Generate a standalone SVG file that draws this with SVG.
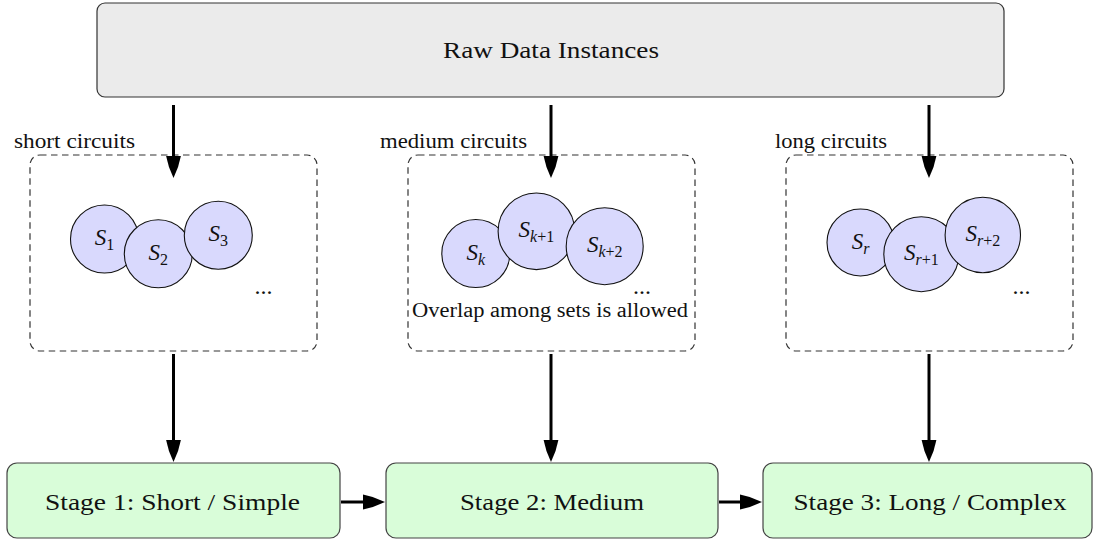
<svg xmlns="http://www.w3.org/2000/svg" width="1094" height="540" viewBox="0 0 1094 540" font-family="Liberation Serif, DejaVu Serif, serif">
  <defs>
    <marker id="tip" markerUnits="userSpaceOnUse" markerWidth="24" markerHeight="16" refX="10" refY="8" orient="auto">
      <path d="M0,0.6 Q11,2.6 22,8 Q11,13.4 0,15.4 Z" fill="#000"/>
    </marker>
    <style>
      text { font-family: 'Liberation Serif', 'DejaVu Serif', serif; fill: #111; }
      .big { font-size: 24px; }
      .small { font-size: 20px; }
      .raw { fill: #ebebeb; stroke: #333; stroke-width: 1.2; }
      .stage { fill: #d9fdd9; stroke: #444; stroke-width: 1.2; }
      .group { fill: none; stroke: #333; stroke-width: 1.2; stroke-dasharray: 6.5 4.5; }
      .set { fill: #d9d9fd; stroke: #111; stroke-width: 1.1; }
      .math { font-size: 23px; }
      .sub { font-size: 16px; }
      .edge { stroke: #000; stroke-width: 3; fill: none; marker-end: url(#tip); }
    </style>
  </defs>

  <!-- source -->
  <g id="raw">
    <rect class="raw" x="97" y="3" width="907" height="94" rx="8"/>
    <text class="big" x="551" y="58" text-anchor="middle" textLength="216" lengthAdjust="spacingAndGlyphs">Raw Data Instances</text>
  </g>

  <!-- circuit groups -->
  <g id="short-group">
    <rect class="group" x="30" y="155" width="287" height="196" rx="10"/>
    <text class="small" x="14" y="148" textLength="121" lengthAdjust="spacingAndGlyphs">short circuits</text>
    <g id="s1">
      <circle class="set" cx="104.5" cy="239" r="34"/>
      <text class="math" x="104.5" y="245" text-anchor="middle"><tspan font-style="italic">S</tspan><tspan class="sub" dy="4.5">1</tspan></text>
    </g>
    <g id="s2">
      <circle class="set" cx="158.3" cy="253.8" r="34"/>
      <text class="math" x="158.3" y="260" text-anchor="middle"><tspan font-style="italic">S</tspan><tspan class="sub" dy="4.5">2</tspan></text>
    </g>
    <g id="s3">
      <circle class="set" cx="218.3" cy="235.2" r="34"/>
      <text class="math" x="218.3" y="241" text-anchor="middle"><tspan font-style="italic">S</tspan><tspan class="sub" dy="4.5">3</tspan></text>
    </g>
    <text class="big" x="263.5" y="294" text-anchor="middle">...</text>
  </g>

  <g id="medium-group">
    <rect class="group" x="408" y="155" width="287" height="196" rx="10"/>
    <text class="small" x="380" y="148" textLength="147" lengthAdjust="spacingAndGlyphs">medium circuits</text>
    <g id="sk">
      <circle class="set" cx="475.8" cy="253.5" r="34"/>
      <text class="math" x="475.8" y="260" text-anchor="middle"><tspan font-style="italic">S</tspan><tspan class="sub" dy="4.5" font-style="italic">k</tspan></text>
    </g>
    <g id="sk1">
      <circle class="set" cx="536.4" cy="231.3" r="38.3"/>
      <text class="math" x="536.4" y="237" text-anchor="middle"><tspan font-style="italic">S</tspan><tspan class="sub" dy="4.5" font-style="italic">k</tspan><tspan class="sub">+1</tspan></text>
    </g>
    <g id="sk2">
      <circle class="set" cx="604.7" cy="246.2" r="38.5"/>
      <text class="math" x="604.7" y="252" text-anchor="middle"><tspan font-style="italic">S</tspan><tspan class="sub" dy="4.5" font-style="italic">k</tspan><tspan class="sub">+2</tspan></text>
    </g>
    <text class="big" x="642" y="294" text-anchor="middle">...</text>
    <text class="small" x="412" y="317" textLength="276" lengthAdjust="spacingAndGlyphs">Overlap among sets is allowed</text>
  </g>

  <g id="long-group">
    <rect class="group" x="786" y="155" width="287" height="196" rx="10"/>
    <text class="small" x="775" y="148" textLength="112" lengthAdjust="spacingAndGlyphs">long circuits</text>
    <g id="sr">
      <circle class="set" cx="860.5" cy="242.5" r="33.5"/>
      <text class="math" x="860.5" y="249" text-anchor="middle"><tspan font-style="italic">S</tspan><tspan class="sub" dy="4.5" font-style="italic">r</tspan></text>
    </g>
    <g id="sr1">
      <circle class="set" cx="921.3" cy="254.2" r="37.5"/>
      <text class="math" x="921.3" y="260" text-anchor="middle"><tspan font-style="italic">S</tspan><tspan class="sub" dy="4.5" font-style="italic">r</tspan><tspan class="sub">+1</tspan></text>
    </g>
    <g id="sr2">
      <circle class="set" cx="982.8" cy="235" r="37.7"/>
      <text class="math" x="982.8" y="241" text-anchor="middle"><tspan font-style="italic">S</tspan><tspan class="sub" dy="4.5" font-style="italic">r</tspan><tspan class="sub">+2</tspan></text>
    </g>
    <text class="big" x="1021.5" y="294" text-anchor="middle">...</text>
  </g>

  <!-- curriculum stages -->
  <g id="stage1">
    <rect class="stage" x="7" y="463" width="333" height="75" rx="10"/>
    <text class="big" x="172.5" y="510" text-anchor="middle" textLength="255" lengthAdjust="spacingAndGlyphs">Stage 1: Short / Simple</text>
  </g>
  <g id="stage2">
    <rect class="stage" x="386" y="463" width="332" height="75" rx="10"/>
    <text class="big" x="552" y="510" text-anchor="middle" textLength="184" lengthAdjust="spacingAndGlyphs">Stage 2: Medium</text>
  </g>
  <g id="stage3">
    <rect class="stage" x="763" y="463" width="329" height="75" rx="10"/>
    <text class="big" x="930" y="510" text-anchor="middle" textLength="273" lengthAdjust="spacingAndGlyphs">Stage 3: Long / Complex</text>
  </g>

  <!-- connectors -->
  <g id="connectors">
    <line class="edge" x1="173.5" y1="105" x2="173.5" y2="166"/>
    <line class="edge" x1="551" y1="105" x2="551" y2="166"/>
    <line class="edge" x1="929" y1="105" x2="929" y2="166"/>
    <line class="edge" x1="173.5" y1="354" x2="173.5" y2="450"/>
    <line class="edge" x1="551" y1="354" x2="551" y2="450"/>
    <line class="edge" x1="929" y1="354" x2="929" y2="450"/>
    <line class="edge" x1="341" y1="502" x2="373" y2="502"/>
    <line class="edge" x1="719" y1="502" x2="750" y2="502"/>
  </g>
</svg>
